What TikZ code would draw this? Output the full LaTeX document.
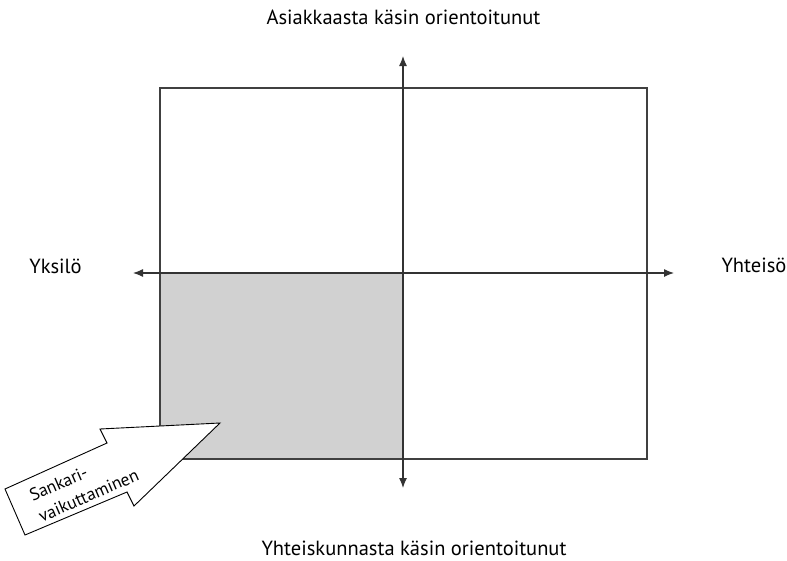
\documentclass[tikz,border=0pt]{standalone}
\usepackage{fontspec}
\setmainfont{PT Sans}
\usetikzlibrary{arrows.meta, positioning}

\begin{document}
\begin{tikzpicture}[
        x=1pt, y=-1pt,
        font=\fontsize{20.5}{24}\selectfont,
        % Styles
        frame/.style={% the big square
            rectangle,
            draw=black!75,
            line width=1.2pt,
            minimum width=487pt,
            minimum height=371pt,
            inner sep=0pt,
            },
        shade/.style={% the grey quarter
            fill=black!18,
            draw=black!75,
            line width=1.2pt,
            },
        axis/.style={% arrows of the two axes
            line width=1.2pt,
            draw=black!80,
            {Latex[length=10pt,width=8pt]}-{Latex[length=10pt,width=8pt]},
            },
        pointer/.style={% the fat arrow
            fill=white,
            draw=black,
            line width=0.9pt,
            line join=miter,
            },
        mylabel/.style={% texts
            inner sep=0pt,
            anchor=base,
            },
        ]
    \useasboundingbox (0,0) rectangle (787,560);

    % Nodes
        % Draw the square and its grey part
        \node [frame] (box) at (403.5,273.5) {};
        \filldraw [shade] (box.west |- 0,273) rectangle (403,459);
        \node [frame] at (box) {};

        % Axis ends
        \coordinate (west) at (133,273);
        \coordinate (east) at (674,273);
        \coordinate (north) at (403,56);
        \coordinate (south) at (403,488);

        % Axis labels
        \node [mylabel] (top) at (403.5,24) {Asiakkaasta käsin orientoitunut};
        \node [mylabel] (bottom) at (414,555) {Yhteiskunnasta käsin orientoitunut};
        \node [mylabel] (left) at (55.5,273) {Yksilö};
        \node [mylabel] (right) at (754,272) {Yhteisö};

    % Axes
        \draw [axis] (west) -- (east);
        \draw [axis] (south) -- (north);

    % Fat arrow
        \draw [pointer] (220,423) -- (100,429) -- (107,443) -- (5,489)
            -- (25,535) -- (127,492) -- (134,506) -- cycle;
        \node [inner sep=0pt, rotate=23.5, align=left,
            font=\fontsize{17.5}{23}\selectfont] (hero) at (84,485) {Sankari-\\vaikuttaminen};

\end{tikzpicture}
\end{document}
